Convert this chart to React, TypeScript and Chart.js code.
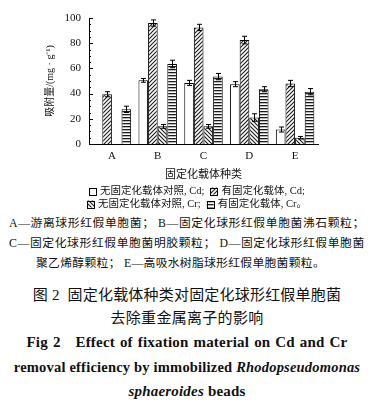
import React, { useEffect, useRef } from 'react';
import { Chart, registerables } from 'chart.js';

Chart.register(...registerables);

const categories = ['A', 'B', 'C', 'D', 'E'];
const seriesLabels = [
  '无固定化载体对照, Cd;',
  '有固定化载体, Cd;',
  '无固定化载体对照, Cr;',
  '有固定化载体, Cr。',
];
const cdControl = [0, 50.5, 48.5, 47.5, 11.5];
const cdCarrier = [39.5, 96, 92.5, 82.5, 48];
const crControl = [0, 14, 14, 21, 5];
const crCarrier = [27.5, 63.5, 53.5, 43.5, 41.5];
const cdControlErr = [0, 1.5, 2, 2, 2];
const cdCarrierErr = [2, 2.5, 2.5, 3, 2.5];
const crControlErr = [0, 1.5, 1.5, 3, 1];
const crCarrierErr = [2.5, 3, 2.5, 2, 2.5];
const yTicks = [0, 20, 40, 60, 80, 100];

const SERIF = "'Liberation Serif', 'DejaVu Serif', 'Noto Sans CJK SC', serif";
const CJK = "'Liberation Serif', 'Noto Sans CJK SC', serif";

function makePattern(kind: string): CanvasPattern | string {
  const c = document.createElement('canvas');
  const w = 4;
  const h = kind === 'h' ? 3 : 4;
  c.width = w;
  c.height = h;
  const ctx = c.getContext('2d');
  if (!ctx) return '#888';
  ctx.fillStyle = '#fff';
  ctx.fillRect(0, 0, w, h);
  ctx.strokeStyle = '#1a1a1a';
  ctx.fillStyle = '#1a1a1a';
  ctx.lineWidth = 1.1;
  if (kind === 'h') {
    ctx.fillRect(0, 0, w, 1.3);
  } else if (kind === 'f') {
    ctx.beginPath();
    ctx.moveTo(-1, 5); ctx.lineTo(5, -1);
    ctx.moveTo(-1, 1); ctx.lineTo(1, -1);
    ctx.moveTo(3, 5); ctx.lineTo(5, 3);
    ctx.stroke();
  } else {
    ctx.beginPath();
    ctx.moveTo(-1, -1); ctx.lineTo(5, 5);
    ctx.moveTo(3, -1); ctx.lineTo(5, 1);
    ctx.moveTo(-1, 3); ctx.lineTo(1, 5);
    ctx.stroke();
  }
  const p = ctx.createPattern(c, 'repeat');
  return p || '#888';
}

const errorBarPlugin = {
  id: 'errorBars',
  afterDatasetsDraw(chart: any) {
    const ctx = chart.ctx;
    const y = chart.scales.y;
    const errs = [cdControlErr, cdCarrierErr, crControlErr, crCarrierErr];
    ctx.save();
    ctx.strokeStyle = '#000';
    ctx.lineWidth = 1;
    chart.data.datasets.forEach((ds: any, i: number) => {
      const meta = chart.getDatasetMeta(i);
      meta.data.forEach((el: any, j: number) => {
        const v = ds.data[j];
        const e = errs[i][j];
        if (!v || !e) return;
        const x = Math.round(el.x) + 0.5;
        const top = y.getPixelForValue(v + e);
        const bot = y.getPixelForValue(v - e);
        ctx.beginPath();
        ctx.moveTo(x, top); ctx.lineTo(x, bot);
        ctx.moveTo(x - 2.5, top); ctx.lineTo(x + 2.5, top);
        ctx.moveTo(x - 2.5, bot); ctx.lineTo(x + 2.5, bot);
        ctx.stroke();
      });
    });
    ctx.restore();
  },
};

const innerTicksPlugin = {
  id: 'innerTicks',
  afterDraw(chart: any) {
    const ctx = chart.ctx;
    const y = chart.scales.y;
    const left = chart.chartArea.left;
    ctx.save();
    ctx.strokeStyle = '#000';
    ctx.lineWidth = 1;
    for (let v = 0; v <= 100; v += 5) {
      const py = Math.round(y.getPixelForValue(v)) + 0.5;
      const len = v % 20 === 0 ? 4 : 2;
      ctx.beginPath();
      ctx.moveTo(left, py);
      ctx.lineTo(left + len, py);
      ctx.stroke();
    }
    ctx.restore();
  },
};

// Legend drawn on the canvas, two entries per row
const legendPlugin = {
  id: 'twoRowLegend',
  afterDraw(chart: any) {
    const ctx = chart.ctx;
    const ds = chart.data.datasets;
    const rows = [[0, 1], [2, 3]];
    const rowY = [191, 204];
    const cx = 197;
    const box = 7;
    const gap = 4;
    const sep = 6;
    ctx.save();
    ctx.font = `10.5px ${CJK}`;
    ctx.textBaseline = 'middle';
    ctx.fillStyle = '#111';
    rows.forEach((r, ri) => {
      const widths = r.map((i) => ctx.measureText(ds[i].label).width);
      const total = widths.reduce((a, w) => a + box + gap + w, 0) + sep;
      let x = cx - total / 2;
      r.forEach((i, k) => {
        const y = rowY[ri];
        ctx.fillStyle = ds[i].backgroundColor;
        ctx.fillRect(x, y - box / 2, box, box);
        ctx.strokeStyle = '#000';
        ctx.lineWidth = 1;
        ctx.strokeRect(Math.round(x) + 0.5, Math.round(y - box / 2) + 0.5, box, box);
        x += box + gap;
        ctx.fillStyle = '#111';
        ctx.fillText(ds[i].label, x, y);
        x += widths[k] + sep;
      });
    });
    ctx.restore();
  },
};

export default function App() {
  const ref = useRef<HTMLCanvasElement>(null);

  useEffect(() => {
    if (!ref.current) return;
    const fills = [ '#ffffff', makePattern('f'), makePattern('b'), makePattern('h') ];
    const values = [cdControl, cdCarrier, crControl, crCarrier];
    const chart = new Chart(ref.current, {
      type: 'bar',
      data: {
        labels: categories,
        datasets: values.map((d, i) => ({
          label: seriesLabels[i],
          data: d,
          backgroundColor: fills[i] as any,
          borderColor: '#000',
          borderWidth: 1,
          borderSkipped: 'bottom',
          categoryPercentage: 0.84,
          barPercentage: 1.0,
        })),
      },
      options: {
        responsive: false,
        animation: false,
        devicePixelRatio: 1,
        layout: { padding: { left: 40, right: 56, top: 18, bottom: 31 } },
        plugins: {
          tooltip: { enabled: false },
          legend: { display: false },
        },
        scales: {
          x: {
            grid: { display: false, drawTicks: false },
            border: { display: true, color: '#000', width: 1 },
            ticks: { color: '#111', font: { family: SERIF, size: 11 }, padding: 6 },
            title: {
              display: true,
              text: '固定化载体种类',
              color: '#111',
              font: { family: CJK, size: 11 },
              padding: { top: 0, bottom: 2 },
            },
            afterFit: (s: any) => { s.height = 40; },
          },
          y: {
            min: 0,
            max: 100,
            grid: { display: false, drawTicks: false },
            border: { display: true, color: '#000', width: 1 },
            afterBuildTicks: (s: any) => { s.ticks = yTicks.map((v) => ({ value: v })); },
            ticks: { color: '#111', font: { family: SERIF, size: 11 }, padding: 8 },
            title: {
              display: true,
              text: '吸附量/(mg · g⁻¹)',
              color: '#111',
              font: { family: CJK, size: 10 },
              padding: { top: 4, bottom: 0 },
            },
            afterFit: (s: any) => { s.width = 49; },
          },
        },
      },
      plugins: [errorBarPlugin, innerTicksPlugin, legendPlugin],
    });
    return () => chart.destroy();
  }, []);

  const cap: React.CSSProperties = {
    position: 'absolute',
    left: 0,
    width: 374,
    textAlign: 'center',
    whiteSpace: 'nowrap',
    color: '#111',
    lineHeight: '1',
  };
  const cn: React.CSSProperties = { ...cap, fontFamily: CJK, fontSize: 11.8, letterSpacing: 0.6 };
  const en: React.CSSProperties = { ...cap, fontFamily: SERIF, fontSize: 14.5, fontWeight: 'bold', letterSpacing: 0.2 };

  return (
    <div style={{ position: 'absolute', left: 0, top: 0, width: 374, height: 402, background: '#fff' }}>
      <canvas ref={ref} width={374} height={215} style={{ display: 'block' }} />
      <div style={{ ...cn, top: 218 }}>A—游离球形红假单胞菌； B—固定化球形红假单胞菌沸石颗粒；</div>
      <div style={{ ...cn, top: 238 }}>C—固定化球形红假单胞菌明胶颗粒； D—固定化球形红假单胞菌</div>
      <div style={{ ...cn, top: 258, left: 36, width: 'auto', textAlign: 'left', letterSpacing: 0.3 }}>聚乙烯醇颗粒； E—高吸水树脂球形红假单胞菌颗粒。</div>
      <div style={{ ...cn, top: 288, fontSize: 15, letterSpacing: 0.2 }}>图 2&nbsp;&nbsp;固定化载体种类对固定化球形红假单胞菌</div>
      <div style={{ ...cn, top: 311, fontSize: 15, letterSpacing: 0.3 }}>去除重金属离子的影响</div>
      <div style={{ ...en, top: 335, fontSize: 15, wordSpacing: 1 }}>Fig 2&nbsp;&nbsp;&nbsp;Effect of fixation material on Cd and Cr</div>
      <div style={{ ...en, top: 360 }}>removal efficiency by immobilized <i>Rhodopseudomonas</i></div>
      <div style={{ ...en, top: 384, fontSize: 15 }}><i>sphaeroides</i> beads</div>
    </div>
  );
}
